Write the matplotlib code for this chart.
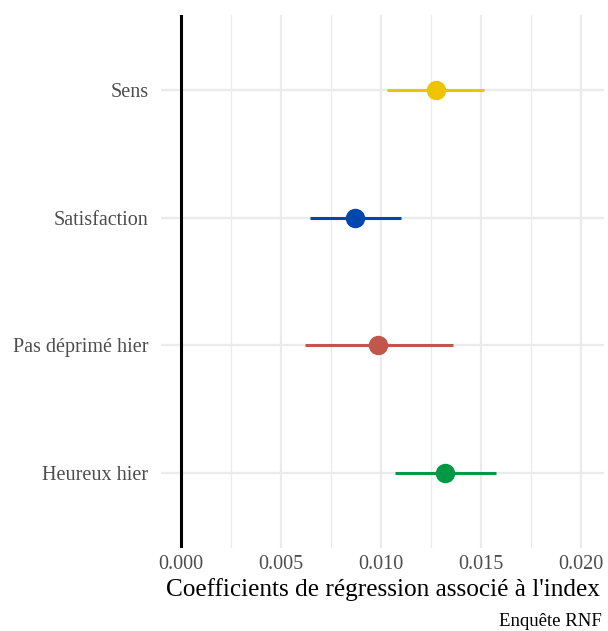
import matplotlib
matplotlib.use("Agg")
import matplotlib.pyplot as plt

# estimates
items = ["Heureux hier", "Pas déprimé hier", "Satisfaction", "Sens"]
coef = [0.01322, 0.00985, 0.0087, 0.01274]
low = [0.01072, 0.0062, 0.00645, 0.01032]
high = [0.01573, 0.0136, 0.0110, 0.01517]
colors = ["#009A44", "#C0574A", "#0047AB", "#F0C300"]
xticks = [0.000, 0.005, 0.010, 0.015, 0.020]

plt.rcParams["font.family"] = ["Liberation Serif", "DejaVu Serif"]

fig = plt.figure(figsize=(6.08, 6.31), dpi=100)
ax = fig.add_axes([161 / 608, 83 / 631, 443 / 608, 533 / 631])

ypos = list(range(1, len(items) + 1))
for y, c, lo, hi, col in zip(ypos, coef, low, high, colors):
    ax.hlines(y, lo, hi, color=col, lw=2.2, zorder=3)
    ax.plot(c, y, "o", ms=13, color=col, zorder=4)

ax.axvline(0, color="black", lw=2.2, zorder=2)

ax.set_xlim(-0.001, 0.02115)
ax.set_ylim(0.414, 4.586)
ax.set_yticks(ypos)
ax.set_yticklabels(items)
ax.set_xticks(xticks)
ax.set_xticklabels([f"{t:.3f}" for t in xticks])
ax.set_xticks([0.0025, 0.0075, 0.0125, 0.0175], minor=True)
ax.grid(which="major", color="#ebebeb", lw=1.6, zorder=0)
ax.grid(which="minor", axis="x", color="#ebebeb", lw=0.9, zorder=0)
ax.tick_params(which="both", length=0, labelsize=14.5, labelcolor="#4d4d4d")
ax.tick_params(axis="y", pad=9)
ax.tick_params(axis="x", pad=5)
for s in ax.spines.values():
    s.set_visible(False)
ax.set_xlabel("Coefficients de régression associé à l'index", fontsize=18.2, labelpad=3)
fig.text(602 / 608, 1 / 631, "Enquête RNF", ha="right", va="bottom", fontsize=13.5)

fig.savefig("out.png", dpi=100)
